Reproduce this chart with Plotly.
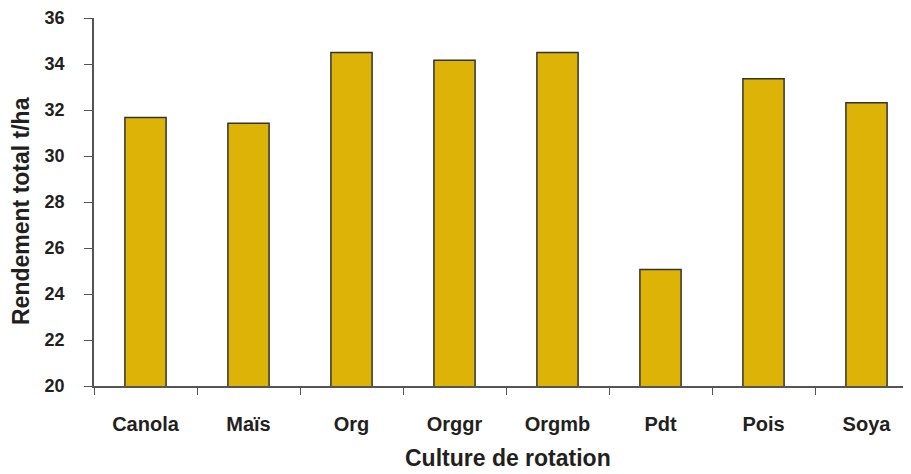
import plotly.graph_objects as go

categories = ["Canola", "Maïs", "Org", "Orggr", "Orgmb", "Pdt", "Pois", "Soya"]
rendement = [31.67, 31.42, 34.50, 34.16, 34.50, 25.07, 33.36, 32.32]
y_ticks = [20, 22, 24, 26, 28, 30, 32, 34, 36]

# page body has an 8px default margin, so the figure is drawn 8px in and down
OFF = 8
W, H = 911 - OFF, 474 - OFF
L, T = 94 - OFF, 18 - OFF
plot_h = 386 - 18
B = H - T - plot_h
R = 0
plot_w = W - L - R
cat_px = 103.0
x_max = -0.5 + plot_w / cat_px

font_family = "Liberation Sans, Arial, sans-serif"
axis_col = "#555555"
text_col = "#231f20"

fig = go.Figure(
    go.Bar(
        x=categories,
        y=rendement,
        marker=dict(color="#DDB307", line=dict(color="#333333", width=1.5)),
        width=0.4,
    )
)

fig.update_layout(
    width=W,
    height=H,
    margin=dict(l=L, r=R, t=T, b=B, autoexpand=False),
    plot_bgcolor="white",
    paper_bgcolor="white",
    showlegend=False,
    font=dict(family=font_family, color=text_col),
    annotations=[
        dict(
            text="<b>Culture de rotation</b>",
            xref="paper", yref="paper",
            x=(508 - 94) / plot_w, y=-(B - 1) / plot_h,
            xanchor="center", yanchor="bottom",
            showarrow=False,
            font=dict(size=23, family=font_family, color=text_col),
        ),
        dict(
            text="<b>Rendement total t/ha</b>",
            xref="paper", yref="paper",
            x=-(94 - 21) / plot_w, y=1 - (211 - 18) / plot_h,
            xanchor="center", yanchor="middle",
            textangle=-90,
            showarrow=False,
            font=dict(size=23, family=font_family, color=text_col),
        ),
    ],
)

fig.update_xaxes(
    type="category",
    range=[-0.5, x_max],
    automargin=False,
    showline=True,
    linecolor=axis_col,
    linewidth=1.5,
    ticks="outside",
    tickson="boundaries",
    ticklen=7,
    tickwidth=1.2,
    tickcolor=axis_col,
    ticklabelstandoff=19,
    showgrid=False,
    tickfont=dict(size=20, family=font_family, color=text_col, weight="bold"),
)

fig.update_yaxes(
    range=[20, 36],
    automargin=False,
    tickvals=y_ticks,
    ticktext=[str(v) for v in y_ticks],
    showline=True,
    linecolor=axis_col,
    linewidth=1.5,
    ticks="outside",
    ticklen=8,
    tickwidth=1.2,
    tickcolor=axis_col,
    ticklabelstandoff=16,
    showgrid=False,
    zeroline=False,
    tickfont=dict(size=18, family=font_family, color=text_col, weight="bold"),
)

fig.write_html("out.html")
